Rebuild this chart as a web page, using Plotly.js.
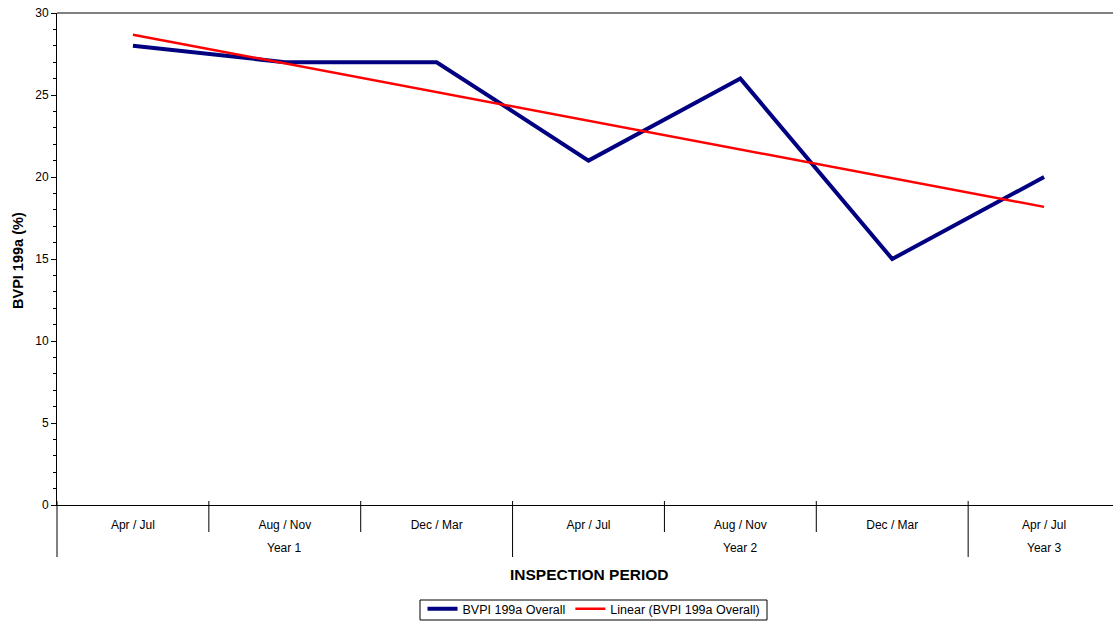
<!DOCTYPE html>
<html>
<head>
<meta charset="utf-8">
<script src="https://cdn.plot.ly/plotly-3.0.1.min.js"></script>
<style>
html,body{margin:0;padding:0;overflow:hidden;background:#fff;}
#chart{width:1120px;height:622px;}
</style>
</head>
<body>
<div id="chart"></div>
<script>
// ---- data ----
var periods = ["Apr / Jul", "Aug / Nov", "Dec / Mar", "Apr / Jul", "Aug / Nov", "Dec / Mar", "Apr / Jul"];
var years = ["Year 1", "Year 1", "Year 1", "Year 2", "Year 2", "Year 2", "Year 3"];
var bvpiOverall = [28, 27, 27, 21, 26, 15, 20];
var seriesName = "BVPI 199a Overall";
var trendName = "Linear (BVPI 199a Overall)";
var yTitle = "BVPI 199a (%)";
var xTitle = "INSPECTION PERIOD";

// category positions 1..n
var n = periods.length;
var xs = periods.map(function (_, i) { return i + 1; });

// least-squares linear trend (as Excel's "Linear" trendline)
var mx = xs.reduce(function (a, b) { return a + b; }, 0) / n;
var my = bvpiOverall.reduce(function (a, b) { return a + b; }, 0) / n;
var sxy = 0, sxx = 0;
for (var i = 0; i < n; i++) { sxy += (xs[i] - mx) * (bvpiOverall[i] - my); sxx += (xs[i] - mx) * (xs[i] - mx); }
var slope = sxy / sxx, intercept = my - slope * mx;
var trendX = [xs[0], xs[n - 1]];
var trendY = trendX.map(function (x) { return intercept + slope * x; });

// ---- layout helpers ----
var FONT = "Liberation Sans, Arial, sans-serif";
var W = 1120, H = 622;
var plotLeftPx = 57, plotW = W - plotLeftPx;
var plotTopPx = 13, plotBottomPx = 505, plotH = plotBottomPx - plotTopPx;
function py(px) { return (plotBottomPx - px) / plotH; }
function pxp(px) { return (px - plotLeftPx) / plotW; }
var xMin = 0.5, xMax = n + 0.5;
function xp(v) { return (v - xMin) / (xMax - xMin); }

// group spans
var groups = [];
years.forEach(function (y, i) {
  if (!groups.length || groups[groups.length - 1].name !== y) groups.push({ name: y, start: i + 1, end: i + 1 });
  else groups[groups.length - 1].end = i + 1;
});

var shapes = [];
// top border line (grey)
shapes.push({ type: "line", xref: "paper", yref: "paper", x0: 0, x1: 1, y0: 1, y1: 1, line: { color: "#808080", width: 2 } });
// category dividers
var groupEdges = {};
groups.forEach(function (g) { groupEdges[g.start - 0.5] = true; groupEdges[g.end + 0.5] = true; });
for (var b = 0; b <= n; b++) {
  var bx = b + 0.5;
  var full = !!groupEdges[bx];
  shapes.push({ type: "line", xref: "paper", yref: "paper", x0: xp(bx), x1: xp(bx),
    y0: py(501), y1: full ? py(557) : py(532), line: { color: "#000", width: 1 } });
}
// legend frame
shapes.push({ type: "rect", xref: "paper", yref: "paper", x0: pxp(420), x1: pxp(767), y0: py(600), y1: py(620),
  line: { color: "#000", width: 1 }, fillcolor: "rgba(0,0,0,0)" });

var annotations = [];
groups.forEach(function (g) {
  annotations.push({ xref: "x", yref: "paper", x: (g.start + g.end) / 2, y: py(548), text: g.name,
    showarrow: false, xanchor: "center", yanchor: "middle", font: { family: FONT, size: 12, color: "#000" } });
});
annotations.push({ xref: "paper", yref: "paper", x: xp((xMin + xMax) / 2), y: py(574), text: "<b>" + xTitle + "</b>",
  showarrow: false, xanchor: "center", yanchor: "middle", font: { family: FONT, size: 15.5, color: "#000" } });
annotations.push({ xref: "paper", yref: "paper", x: pxp(18), y: py(261), text: "<b>" + yTitle + "</b>", textangle: -90,
  showarrow: false, xanchor: "center", yanchor: "middle", font: { family: FONT, size: 14.5, color: "#000" } });

var traces = [
  { x: xs, y: bvpiOverall, type: "scatter", mode: "lines", name: seriesName,
    line: { color: "#000080", width: 4 } },
  { x: trendX, y: trendY, type: "scatter", mode: "lines", name: trendName,
    line: { color: "#FF0000", width: 2.5 } }
];

var layout = {
  width: W, height: H,
  margin: { l: plotLeftPx, r: 0, t: plotTopPx, b: H - plotBottomPx, autoexpand: false },
  paper_bgcolor: "#fff", plot_bgcolor: "#fff",
  font: { family: FONT, size: 12, color: "#000" },
  showlegend: true,
  legend: { orientation: "h", xref: "paper", x: pxp(594), xanchor: "center",
    yref: "container", y: (H - 594) / H, yanchor: "top",
    borderwidth: 0, bgcolor: "rgba(0,0,0,0)",
    font: { family: FONT, size: 12.5, color: "#000" }, itemwidth: 30, tracegroupgap: 0 },
  xaxis: { range: [xMin, xMax], tickvals: xs, ticktext: periods, ticks: "outside", ticklen: 9,
    tickcolor: "rgba(0,0,0,0)", showgrid: false, zeroline: false,
    showline: true, linecolor: "#000", linewidth: 1, tickfont: { family: FONT, size: 12, color: "#000" },
    fixedrange: true, automargin: false },
  yaxis: { range: [0, 30], dtick: 5, tick0: 0, ticks: "outside", ticklen: 5, tickwidth: 1, tickcolor: "#000",
    showgrid: false, zeroline: false, showline: true, linecolor: "#000", linewidth: 1,
    minor: { dtick: 1, ticks: "outside", ticklen: 3, tickcolor: "#000", showgrid: false },
    tickfont: { family: FONT, size: 12, color: "#000" }, fixedrange: true, automargin: false },
  shapes: shapes,
  annotations: annotations
};

Plotly.newPlot("chart", traces, layout, { displayModeBar: false, staticPlot: true });
</script>
</body>
</html>
